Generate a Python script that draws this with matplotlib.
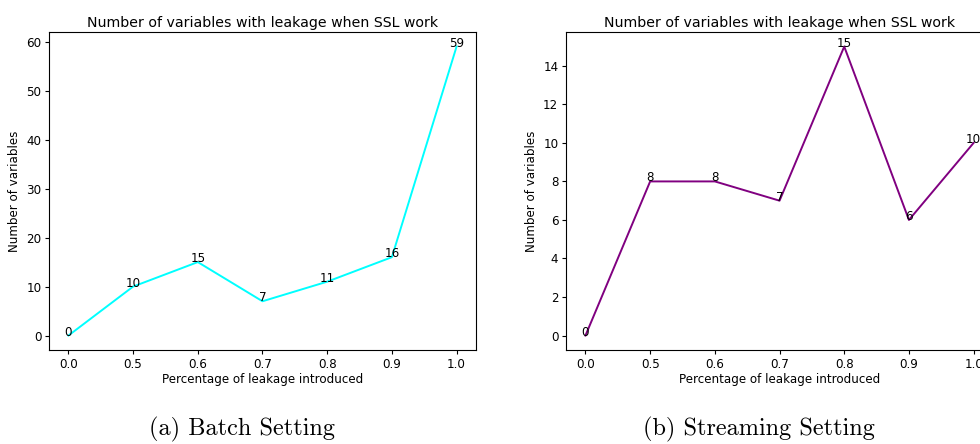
import matplotlib
matplotlib.use("Agg")
import matplotlib.pyplot as plt

categories = ["0.0", "0.5", "0.6", "0.7", "0.8", "0.9", "1.0"]
batch_values = [0, 10, 15, 7, 11, 16, 59]
stream_values = [0, 8, 8, 7, 15, 6, 10]
title = "Number of variables with leakage when SSL work"
xlabel = "Percentage of leakage introduced"
ylabel = "Number of variables"
captions = ["(a) Batch Setting", "(b) Streaming Setting"]

fig = plt.figure(figsize=(9.8, 4.44), dpi=100)
fs = 8.6
ax1 = fig.add_axes([0.05, 0.2117, 0.4357, 0.716])
ax2 = fig.add_axes([0.5776, 0.2117, 0.4357, 0.716])

for ax, vals, color, cap, cx in [(ax1, batch_values, "cyan", captions[0], 0.247),
                                 (ax2, stream_values, "purple", captions[1], 0.7745)]:
    ax.plot(categories, vals, color=color, lw=1.4)
    for c, v in zip(categories, vals):
        ax.text(c, v, str(v), ha="center", va="baseline", fontsize=fs)
    ax.set_title(title, fontsize=10.2, pad=4)
    ax.set_xlabel(xlabel, fontsize=fs, labelpad=2)
    ax.set_ylabel(ylabel, fontsize=fs, labelpad=4)
    ax.tick_params(labelsize=fs, length=3, pad=2.5)
    fig.text(cx, 0.032, cap, ha="center", va="center",
             fontsize=17.5, family="cmr10")

fig.savefig("out.png", dpi=100)
